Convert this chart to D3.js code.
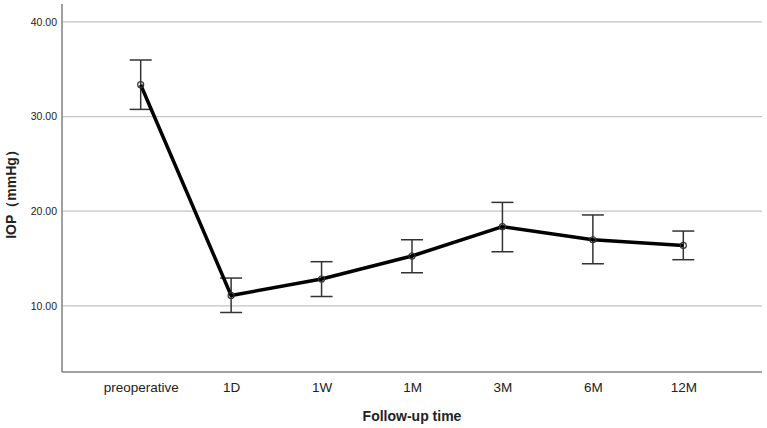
<!DOCTYPE html>
<html>
<head>
<meta charset="utf-8">
<script src="https://cdn.jsdelivr.net/npm/d3@7"></script>
<style>
  body { margin: 0; background: #fff; }
  text { font-family: "Liberation Sans", Arial, sans-serif; fill: #222; }
</style>
</head>
<body>
<div id="chart"></div>
<script>
// IOP over follow-up, mean with error bars
var categories = ["preoperative", "1D", "1W", "1M", "3M", "6M", "12M"];
var means = [33.37, 11.09, 12.83, 15.26, 18.36, 16.98, 16.38];
var upper = [35.98, 12.93, 14.66, 16.98, 20.93, 19.60, 17.90];
var lower = [30.76, 9.29, 10.98, 13.49, 15.71, 14.44, 14.87];
var yTicks = [10, 20, 30, 40];

var width = 767,
    height = 428;
var plotLeft = 62, plotRight = 762, plotTop = 4, plotBottom = 372;

var svg = d3.select("#chart")
    .append("svg")
    .attr("width", width)
    .attr("height", height);

var x = d3.scalePoint().domain(categories).range([plotLeft, plotRight]).padding(0.87);
var y = d3.scaleLinear().domain([3.0, 41.9]).range([plotBottom, plotTop]);

// grid lines
svg.selectAll(".grid")
    .data(yTicks)
    .enter()
    .append("line")
    .attr("class", "grid")
    .attr("x1", plotLeft)
    .attr("x2", plotRight)
    .attr("y1", function(d) { return y(d); })
    .attr("y2", function(d) { return y(d); })
    .attr("stroke", "#c4c4c4")
    .attr("stroke-width", 1.3);

// y axis
var yAxis = svg.append("g")
    .attr("transform", "translate(" + plotLeft + ",0)")
    .call(d3.axisLeft(y).tickValues(yTicks).tickSize(0).tickPadding(5)
        .tickFormat(d3.format(".2f")));
yAxis.select(".domain").remove();
yAxis.selectAll("text").style("font-size", "10.5px").attr("fill", "#222");

// x axis
var xAxis = svg.append("g")
    .attr("transform", "translate(0," + plotBottom + ")")
    .call(d3.axisBottom(x).tickSize(0).tickPadding(10));
xAxis.select(".domain").remove();
xAxis.selectAll("text").style("font-size", "13.5px").attr("fill", "#222");

// axis frame lines
svg.append("line")
    .attr("x1", plotLeft).attr("x2", plotLeft)
    .attr("y1", plotTop).attr("y2", plotBottom)
    .attr("stroke", "#808080").attr("stroke-width", 1.5);
svg.append("line")
    .attr("x1", plotLeft).attr("x2", plotRight)
    .attr("y1", plotBottom).attr("y2", plotBottom)
    .attr("stroke", "#808080").attr("stroke-width", 1.5);

// error bars
var bars = svg.selectAll(".err")
    .data(categories)
    .enter()
    .append("g")
    .attr("class", "err")
    .attr("stroke", "#333")
    .attr("stroke-width", 1.5);
bars.append("line")
    .attr("x1", function(d) { return x(d); })
    .attr("x2", function(d) { return x(d); })
    .attr("y1", function(d, i) { return y(upper[i]); })
    .attr("y2", function(d, i) { return y(lower[i]); });
bars.append("line")
    .attr("x1", function(d) { return x(d) - 11; })
    .attr("x2", function(d) { return x(d) + 11; })
    .attr("y1", function(d, i) { return y(upper[i]); })
    .attr("y2", function(d, i) { return y(upper[i]); });
bars.append("line")
    .attr("x1", function(d) { return x(d) - 11; })
    .attr("x2", function(d) { return x(d) + 11; })
    .attr("y1", function(d, i) { return y(lower[i]); })
    .attr("y2", function(d, i) { return y(lower[i]); });

// mean line
var line = d3.line()
    .x(function(d, i) { return x(categories[i]); })
    .y(function(d) { return y(d); });
svg.append("path")
    .datum(means)
    .attr("d", line)
    .attr("fill", "none")
    .attr("stroke", "#000")
    .attr("stroke-width", 3.5)
    .attr("stroke-linejoin", "round");

svg.selectAll(".pt")
    .data(means)
    .enter()
    .append("circle")
    .attr("class", "pt")
    .attr("cx", function(d, i) { return x(categories[i]); })
    .attr("cy", function(d) { return y(d); })
    .attr("r", 3)
    .attr("fill", "none")
    .attr("stroke", "#333")
    .attr("stroke-width", 1.2);

// axis titles
svg.append("text")
    .attr("transform", "translate(16," + 191 + ") rotate(-90)")
    .attr("text-anchor", "middle")
    .style("font-size", "14px")
    .style("font-weight", "bold")
    .text("IOP（mmHg）");

svg.append("text")
    .attr("x", (plotLeft + plotRight) / 2)
    .attr("y", 421)
    .attr("text-anchor", "middle")
    .style("font-size", "14px")
    .style("font-weight", "bold")
    .text("Follow-up time");
</script>
</body>
</html>
